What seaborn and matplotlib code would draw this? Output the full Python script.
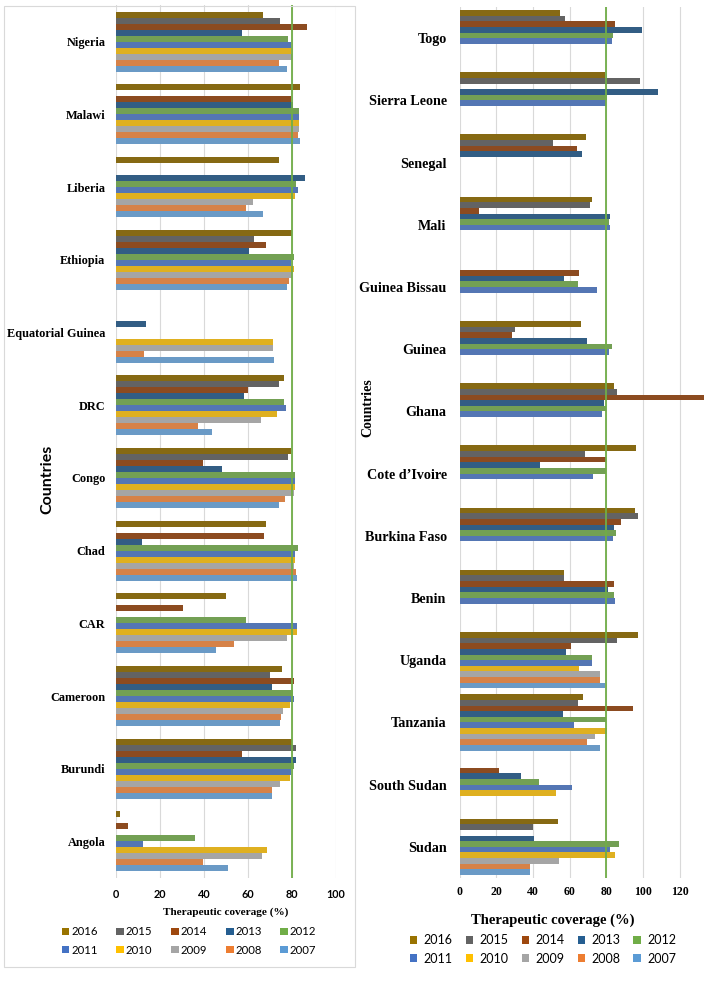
import matplotlib
matplotlib.use("Agg")
import matplotlib.pyplot as plt
from matplotlib.patches import Patch, Rectangle
import pandas as pd
import seaborn as sns

years = ['2016', '2015', '2014', '2013', '2012', '2011', '2010', '2009', '2008', '2007']
year_colors = ['#997300', '#636363', '#9e480e', '#255e91', '#70ad47',
               '#4472c4', '#ffc000', '#a5a5a5', '#ed7d31', '#5b9bd5']

# left panel, values listed 2016 -> 2007 (None = no bar)
left_countries = ['Nigeria', 'Malawi', 'Liberia', 'Ethiopia', 'Equatorial Guinea', 'DRC',
                  'Congo', 'Chad', 'CAR', 'Cameroon', 'Burundi', 'Angola']
nigeria = [67, 74.6, 86.7, 57.5, 78, 79.7, 79.7, 79.8, 74.3, 77.6]
malawi = [83.4, None, 79.7, 80.6, 83, 83, 83, 83, 82.8, 83.4]
liberia = [74, None, None, 86, 81.7, 82.8, 81.2, 62.3, 59.3, 67]
ethiopia = [80, 62.8, 68.4, 60.7, 80.8, 79.7, 80.9, 80.2, 78.8, 77.8]
eq_guinea = [None, None, None, 13.8, None, None, 71.4, 71.3, 12.9, 71.7]
drc = [76.5, 74, 60.2, 58.2, 76.4, 77.3, 73, 65.8, 37.4, 43.7]
congo = [79.7, 78, 39.5, 48.4, 81.4, 81.4, 81.5, 81.1, 76.9, 74]
chad = [68, None, 67.5, 11.8, 82.8, 81.5, 81.4, 81.1, 81.7, 82.1]
car = [50.2, None, 30.4, None, 59, 82.3, 82.1, 77.6, 53.7, 45.4]
cameroon = [75.5, 70, 81.1, 71, 80.5, 80.9, 79.1, 75.8, 74.9, 74.7]
burundi = [80.2, 81.7, 57.3, 81.8, 80.8, 79.7, 79.1, 74.6, 71, 71]
angola = [2.1, None, 5.6, None, 35.9, 12.3, 68.5, 66.4, 39.8, 51]
left_values = [nigeria, malawi, liberia, ethiopia, eq_guinea, drc,
               congo, chad, car, cameroon, burundi, angola]

# right panel
right_countries = ['Togo', 'Sierra Leone', 'Senegal', 'Mali', 'Guinea Bissau', 'Guinea',
                   'Ghana', 'Cote d\u2019Ivoire', 'Burkina Faso', 'Benin', 'Uganda',
                   'Tanzania', 'South Sudan', 'Sudan']
togo = [54.5, 57.3, 84.9, 99.5, 83.8, 82.9, None, None, None, None]
sierra_leone = [79.1, 98.2, None, 108.2, 80.4, 80, None, None, None, None]
senegal = [68.9, 51.1, 63.8, 66.9, None, None, None, None, None, None]
mali = [72.4, 71.1, 10.7, 82, 81.6, 82.2, None, None, None, None]
guinea_bissau = [None, None, 64.9, 56.9, 64.4, 75.1, None, None, None, None]
guinea = [66.4, 30.2, 28.5, 69.3, 83.3, 81.3, None, None, None, None]
ghana = [84.2, 85.8, 133.3, 78.9, 80, 77.6, None, None, None, None]
cote_divoire = [96, 68.4, 79.6, 44, 80, 72.9, None, None, None, None]
burkina_faso = [95.6, 97.1, 87.8, 84, 85.1, 83.8, None, None, None, None]
benin = [57.1, 56.9, 84.4, 80.9, 84, 84.9, None, None, None, None]
uganda = [97.1, 85.8, 60.5, 58.2, 72.2, 72.4, 65.1, 76.7, 76.7, 79.5]
tanzania = [67.3, 64.5, 94.7, 56.2, 79.8, 62.5, 80.2, 73.6, 69.6, 76.7]
south_sudan = [None, None, 21.3, 33.3, 43.3, 61.1, 52.4, None, None, None]
sudan = [53.5, 40.2, None, 40.7, 86.7, 82.2, 84.5, 54, 38.5, 38.5]
right_values = [togo, sierra_leone, senegal, mali, guinea_bissau, guinea, ghana,
                cote_divoire, burkina_faso, benin, uganda, tanzania, south_sudan, sudan]

target = 80
palette = dict(zip(years, year_colors))


def to_long(countries, values):
    rows = []
    for c, vals in zip(countries, values):
        for y, v in zip(years, vals):
            if v is not None:
                rows.append((c, y, v))
    return pd.DataFrame(rows, columns=['country', 'year', 'coverage'])


def draw_panel(ax, df, countries, width, xmax, ticks):
    sns.barplot(data=df, x='coverage', y='country', hue='year', order=countries,
                hue_order=years, palette=palette, orient='h', width=width,
                errorbar=None, linewidth=0, legend=False, ax=ax)
    ax.set_xlim(0, xmax)
    ax.set_xticks(ticks)
    ax.set_axisbelow(True)
    ax.xaxis.grid(True, color='#d9d9d9', lw=0.8)
    ax.yaxis.grid(False)
    ax.axvline(target, color='#70ad47', lw=1.3, zorder=5)
    for s in ax.spines.values():
        s.set_visible(False)
    ax.tick_params(length=0)
    ax.set_xlabel('')
    ax.set_ylabel('')


fig = plt.figure(figsize=(7.09, 9.81), dpi=100)
W, H = 709, 981

ax_l = fig.add_axes([115.7 / W, 1 - 877.8 / H, 220.4 / W, 872.4 / H])
draw_panel(ax_l, to_long(left_countries, left_values), left_countries, 0.825, 100,
           [0, 20, 40, 60, 80, 100])
ax_l.tick_params(axis='y', pad=7.5)
ax_l.tick_params(axis='x', pad=8)
for t in ax_l.get_yticklabels():
    t.set_fontfamily('Liberation Serif')
    t.set_fontweight('bold')
    t.set_fontsize(8.85)
for t in ax_l.get_xticklabels():
    t.set_fontfamily('Lato')
    t.set_fontweight('bold')
    t.set_fontsize(7.8)

ax_r = fig.add_axes([459.7 / W, 1 - 877.9 / H, 247.5 / W, 870.8 / H])
draw_panel(ax_r, to_long(right_countries, right_values), right_countries, 0.905, 135,
           [0, 20, 40, 60, 80, 100, 120])
ax_r.tick_params(axis='y', pad=9.4)
ax_r.tick_params(axis='x', pad=6)
for t in ax_r.get_yticklabels():
    t.set_fontfamily('Liberation Serif')
    t.set_fontweight('bold')
    t.set_fontsize(10.2)
for t in ax_r.get_xticklabels():
    t.set_fontfamily('Liberation Serif')
    t.set_fontweight('bold')
    t.set_fontsize(8.5)

# axis titles
fig.text(226 / W, 1 - 911.7 / H, 'Therapeutic coverage (%)', ha='center', va='center',
         family='Liberation Serif', weight='bold', size=8.1)
fig.text(553 / W, 1 - 920 / H, 'Therapeutic coverage (%)', ha='center', va='center',
         family='Liberation Serif', weight='bold', size=10.5)
fig.text(47 / W, 1 - 479 / H, 'Countries', ha='center', va='center', rotation=90,
         family='Lato', weight='bold', size=11.5)
fig.text(368 / W, 1 - 408 / H, 'Countries', ha='center', va='center', rotation=90,
         family='Liberation Serif', weight='bold', size=10)

# legends, filled row by row
handles = [Patch(facecolor=c, edgecolor='none') for c in year_colors]
order = [0, 5, 1, 6, 2, 7, 3, 8, 4, 9]
fig.legend([handles[i] for i in order], [years[i] for i in order], ncol=5, loc='center',
           bbox_to_anchor=(189 / W, 1 - 941 / H), frameon=False,
           prop={'family': 'Lato', 'size': 8.2}, handlelength=0.68, handleheight=0.68,
           handletextpad=0.15, columnspacing=1.65, labelspacing=0.62, borderpad=0)
fig.legend([handles[i] for i in order], [years[i] for i in order], ncol=5, loc='center',
           bbox_to_anchor=(543 / W, 1 - 949.5 / H), frameon=False,
           prop={'family': 'Lato', 'size': 9}, handlelength=0.6, handleheight=0.6,
           handletextpad=0.5, columnspacing=1.05, labelspacing=0.5, borderpad=0)

# light frame round the left panel
fig.patches.append(Rectangle((4 / W, 1 - 967 / H), 351 / W, 961 / H, fill=False,
                             edgecolor='#d9d9d9', lw=0.8, transform=fig.transFigure))

fig.savefig('out.png', dpi=100, facecolor='white')
